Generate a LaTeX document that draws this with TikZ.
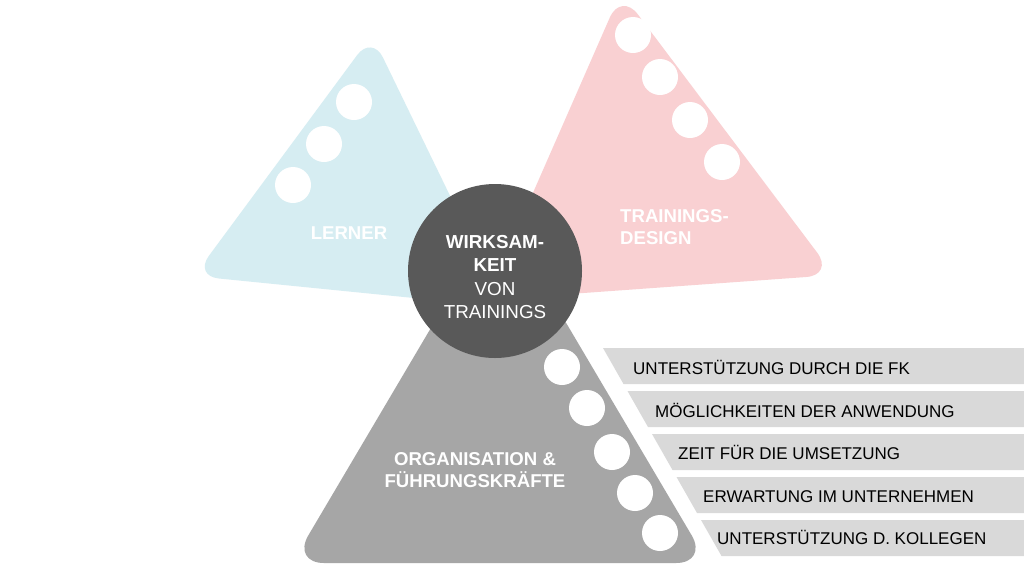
\documentclass[tikz,border=0pt]{standalone}
\usepackage{fontspec}
\setmainfont{Liberation Sans}
\definecolor{lernerblue}{HTML}{D6EDF2}
\definecolor{designpink}{HTML}{F9D0D2}
\definecolor{orggray}{HTML}{A6A6A6}
\definecolor{bargray}{HTML}{D9D9D9}
\definecolor{coredark}{HTML}{595959}
\begin{document}
\begin{tikzpicture}[x=1pt,y=-1pt,
  dot/.style={circle,fill=white,minimum size=36pt,inner sep=0pt},
  lbl/.style={text=white,font=\fontsize{18.6}{22}\selectfont\bfseries,inner sep=0pt},
  bartext/.style={font=\fontsize{17}{20}\selectfont,anchor=base west,inner sep=0pt,text=black},
  barshape/.style={fill=bargray}]
\useasboundingbox (0,0) rectangle (1024,574);
\fill[white] (0,0) rectangle (1024,574);
% triangles
\fill[lernerblue, rounded corners=25pt] (349,291.5) -- (504,307) -- (372,35) -- (194,276) -- cycle;
\fill[designpink, rounded corners=28pt] (660,287.5) -- (834,275) -- (621,-8) -- (486,300) -- cycle;
\fill[orggray, rounded corners=32pt] (500,563) -- (708,563) -- (500,211) -- (292,563) -- cycle;
% dots
\node[dot] (b1) at (354,102) {};
\node[dot] (b2) at (324,144) {};
\node[dot] (b3) at (293,185) {};
\node[dot] (p1) at (633,35) {};
\node[dot] (p2) at (660,77) {};
\node[dot] (p3) at (690,120) {};
\node[dot] (p4) at (722,162) {};
\node[dot] (g1) at (562,367) {};
\node[dot] (g2) at (587,408) {};
\node[dot] (g3) at (612,452) {};
\node[dot] (g4) at (635,493) {};
\node[dot] (g5) at (660,533) {};
% core circle
\node[circle,fill=coredark,minimum size=174pt,inner sep=0pt] (core) at (495,271) {};
\node[text=white,align=center,inner sep=0pt,font=\fontsize{18.8}{23.3}\selectfont] (coretext) at (495,277)
  {{\bfseries WIRKSAM-}\\{\bfseries KEIT}\\VON\\TRAININGS};
% labels
\node[lbl] (lerner) at (349,233) {LERNER};
\node[lbl,align=left,anchor=west] (design) at (620,227) {TRAININGS-\\DESIGN};
\node[lbl,align=center] (org) at (475,470) {ORGANISATION \&\\FÜHRUNGSKRÄFTE};
% bars
\fill[barshape] (603,348) -- (1024,348) -- (1024,384) -- (623.5,384) -- cycle;
\fill[barshape] (627.5,391) -- (1024,391) -- (1024,427) -- (648,427) -- cycle;
\fill[barshape] (652,434) -- (1024,434) -- (1024,470) -- (672.5,470) -- cycle;
\fill[barshape] (676.5,477) -- (1024,477) -- (1024,513) -- (697,513) -- cycle;
\fill[barshape] (701,520) -- (1024,520) -- (1024,556) -- (721.5,556) -- cycle;
\node[bartext] (f1) at (633,374) {UNTERSTÜTZUNG DURCH DIE FK};
\node[bartext] (f2) at (655,417) {MÖGLICHKEITEN DER ANWENDUNG};
\node[bartext] (f3) at (678,459) {ZEIT FÜR DIE UMSETZUNG};
\node[bartext] (f4) at (703,502) {ERWARTUNG IM UNTERNEHMEN};
\node[bartext] (f5) at (717,544) {UNTERSTÜTZUNG D. KOLLEGEN};
\end{tikzpicture}
\end{document}
